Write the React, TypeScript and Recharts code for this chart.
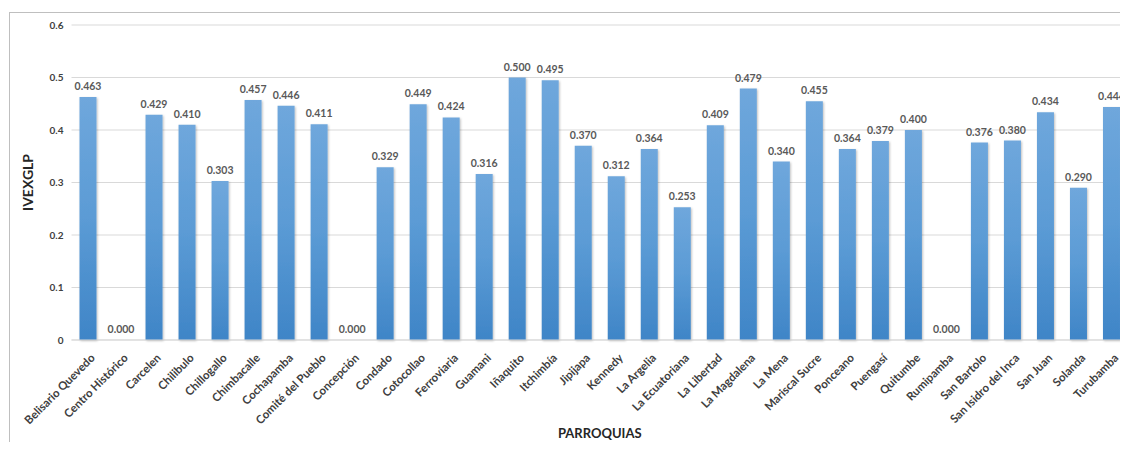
import { ComposedChart, Bar, Line, XAxis, YAxis, CartesianGrid, LabelList, Label } from "recharts";

const parishes = [
  "Belisario Quevedo",
  "Centro Histórico",
  "Carcelen",
  "Chilibulo",
  "Chillogallo",
  "Chimbacalle",
  "Cochapamba",
  "Comité del Pueblo",
  "Concepción",
  "Condado",
  "Cotocollao",
  "Ferroviaria",
  "Guamani",
  "Iñaquito",
  "Itchimbía",
  "Jipijapa",
  "Kennedy",
  "La Argelia",
  "La Ecuatoriana",
  "La Libertad",
  "La Magdalena",
  "La Mena",
  "Mariscal Sucre",
  "Ponceano",
  "Puengasí",
  "Quitumbe",
  "Rumipamba",
  "San Bartolo",
  "San Isidro del Inca",
  "San Juan",
  "Solanda",
  "Turubamba",
];

const ivexglp = [
  0.463, 0.0, 0.429, 0.41, 0.303, 0.457, 0.446, 0.411, 0.0, 0.329, 0.449, 0.424,
  0.316, 0.5, 0.495, 0.37, 0.312, 0.364, 0.253, 0.409, 0.479, 0.34, 0.455, 0.364,
  0.379, 0.4, 0.0, 0.376, 0.38, 0.434, 0.29, 0.444,
];

const yTicks = [0, 0.1, 0.2, 0.3, 0.4, 0.5, 0.6];

const data = parishes.map((name, i) => ({ name, value: ivexglp[i] }));

const FONT = 'Lato, "Liberation Sans", sans-serif';
const TEXT_DARK = "#404040";

function ParishTick({ x, y, payload }: any) {
  return (
    <g transform={`translate(${x + 2},${y + 5})`}>
      <text
        x={0}
        y={0}
        dy={8}
        textAnchor="end"
        transform="rotate(-45)"
        fontFamily={FONT}
        fontSize={11.5}
        fontWeight={700}
        fill={TEXT_DARK}
      >
        {payload.value}
      </text>
    </g>
  );
}

function YTitle({ viewBox }: any) {
  const cy = viewBox.y + viewBox.height / 2;
  return (
    <text
      x={33}
      y={cy}
      textAnchor="middle"
      transform={`rotate(-90, 33, ${cy})`}
      fontFamily={FONT}
      fontSize={14}
      fontWeight={700}
      fill="#262626"
    >
      IVEXGLP
    </text>
  );
}

export default function App() {
  return (
    <div style={{ position: "relative", width: 1128, height: 450, margin: -8, overflow: "hidden", background: "#fff" }}>
      {/* chart area frame */}
      <div
        style={{
          position: "absolute",
          left: 9,
          top: 12,
          width: 1140,
          height: 460,
          borderLeft: "1px solid #bfbfbf",
          borderTop: "1px solid #bfbfbf",
        }}
      />
      <div style={{ position: "absolute", left: 0, top: 0 }}>
        <ComposedChart width={1128} height={450} data={data} margin={{ top: 25, right: 0, left: 0, bottom: 0 }}>
          <defs>
            <linearGradient id="barFill" x1="0" y1="0" x2="0" y2="1">
              <stop offset="0%" stopColor="#6fa7dc" />
              <stop offset="50%" stopColor="#5b9bd5" />
              <stop offset="100%" stopColor="#3f85c7" />
            </linearGradient>
            <filter id="barShadow" x="-20%" y="-5%" width="150%" height="115%">
              <feDropShadow dx="1" dy="1" stdDeviation="0.8" floodColor="#000" floodOpacity="0.25" />
            </filter>
          </defs>
          <CartesianGrid vertical={false} stroke="#d9d9d9" />
          <XAxis
            dataKey="name"
            interval={0}
            height={110}
            tickLine={false}
            axisLine={{ stroke: "#d9d9d9" }}
            tick={<ParishTick />}
          >
            <Label
              value="PARROQUIAS"
              position="insideBottom"
              offset={12}
              style={{ fontFamily: FONT, fontSize: 13, fontWeight: 700, fill: "#262626" }}
            />
          </XAxis>
          <YAxis
            width={71.5}
            domain={[0, 0.6]}
            ticks={yTicks}
            tickLine={false}
            axisLine={false}
            tickFormatter={(v: number) => (v === 0 ? "0" : v.toFixed(1))}
            tick={{ fontFamily: FONT, fontSize: 10, fontWeight: 700, fill: TEXT_DARK }}
          >
            <Label content={<YTitle />} />
          </YAxis>
          <Bar dataKey="value" fill="url(#barFill)" barSize={17} filter="url(#barShadow)" isAnimationActive={false} />
          {/* invisible series that carries the value labels, so zero values get one too */}
          <Line dataKey="value" stroke="none" dot={false} activeDot={false} legendType="none" isAnimationActive={false}>
            <LabelList
              dataKey="value"
              position="top"
              offset={7}
              formatter={(v: any) => Number(v).toFixed(3)}
              style={{ fontFamily: FONT, fontSize: 10.5, fontWeight: 700, fill: "#595959" }}
            />
          </Line>
        </ComposedChart>
      </div>
    </div>
  );
}
